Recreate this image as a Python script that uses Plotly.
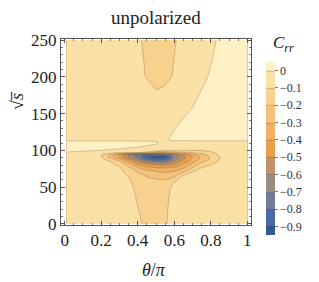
import plotly.graph_objects as go

# theta/pi grid (columns) and sqrt(s) grid (rows)
theta = [0.01, 0.1, 0.2, 0.25, 0.3, 0.35, 0.4, 0.45, 0.5, 0.55, 0.6, 0.65, 0.7, 0.75, 0.8, 0.85, 0.9, 1.0]
sqrt_s_lower = [0, 30, 50, 60, 66, 72, 77, 81, 85, 88, 91, 94, 97, 100, 104, 108, 110.5, 112]
sqrt_s_upper = [114, 130, 160, 182, 190, 200, 220, 250]

# C_rr values, below the threshold line
c_rr_lower = [
    [-0.05, -0.05, -0.05, -0.05, -0.05, -0.05, -0.08, -0.12, -0.13, -0.11, -0.06, -0.05, -0.05, -0.05, -0.05, -0.05, -0.05, -0.05],
    [-0.05, -0.05, -0.05, -0.05, -0.05, -0.055, -0.105, -0.13, -0.14, -0.12, -0.065, -0.055, -0.05, -0.05, -0.05, -0.05, -0.05, -0.05],
    [-0.05, -0.05, -0.05, -0.05, -0.05, -0.07, -0.13, -0.15, -0.16, -0.15, -0.07, -0.06, -0.05, -0.05, -0.05, -0.05, -0.05, -0.05],
    [-0.05, -0.05, -0.05, -0.05, -0.05, -0.09, -0.15, -0.18, -0.19, -0.198, -0.115, -0.075, -0.05, -0.05, -0.05, -0.05, -0.05, -0.05],
    [-0.05, -0.05, -0.05, -0.05, -0.055, -0.11, -0.17, -0.21, -0.24, -0.25, -0.24, -0.098, -0.065, -0.05, -0.05, -0.05, -0.05, -0.05],
    [-0.05, -0.05, -0.05, -0.05, -0.07, -0.15, -0.21, -0.27, -0.31, -0.32, -0.305, -0.23, -0.11, -0.07, -0.05, -0.05, -0.05, -0.05],
    [-0.05, -0.05, -0.05, -0.06, -0.09, -0.19, -0.302, -0.38, -0.41, -0.42, -0.395, -0.32, -0.205, -0.105, -0.075, -0.05, -0.05, -0.05],
    [-0.05, -0.05, -0.055, -0.075, -0.13, -0.26, -0.402, -0.49, -0.52, -0.53, -0.495, -0.39, -0.28, -0.16, -0.105, -0.065, -0.05, -0.05],
    [-0.05, -0.05, -0.065, -0.101, -0.18, -0.37, -0.52, -0.65, -0.705, -0.702, -0.58, -0.46, -0.34, -0.23, -0.15, -0.085, -0.06, -0.05],
    [-0.05, -0.05, -0.078, -0.15, -0.28, -0.48, -0.64, -0.805, -0.87, -0.85, -0.65, -0.51, -0.38, -0.27, -0.18, -0.095, -0.06, -0.05],
    [-0.045, -0.05, -0.092, -0.24, -0.405, -0.605, -0.74, -0.88, -0.96, -0.95, -0.695, -0.54, -0.405, -0.28, -0.185, -0.095, -0.06, -0.05],
    [-0.035, -0.045, -0.095, -0.22, -0.44, -0.62, -0.76, -0.82, -0.805, -0.78, -0.605, -0.48, -0.35, -0.24, -0.16, -0.085, -0.06, -0.05],
    [-0.005, -0.02, -0.05, -0.06, -0.07, -0.09, -0.098, -0.12, -0.295, -0.298, -0.25, -0.205, -0.19, -0.16, -0.115, -0.07, -0.05, -0.05],
    [0.02, 0.01, -0.002, -0.01, -0.02, -0.03, -0.05, -0.06, -0.06, -0.08, -0.09, -0.08, -0.098, -0.098, -0.075, -0.055, -0.05, -0.05],
    [0.04, 0.035, 0.03, 0.025, 0.02, 0.005, -0.003, -0.02, -0.025, -0.05, -0.06, -0.06, -0.06, -0.055, -0.05, -0.05, -0.05, -0.05],
    [0.04, 0.04, 0.04, 0.04, 0.035, 0.03, 0.025, 0.012, -0.002, -0.045, -0.05, -0.05, -0.05, -0.05, -0.05, -0.05, -0.05, -0.05],
    [0.04, 0.04, 0.04, 0.04, 0.04, 0.035, 0.03, 0.025, 0.01, -0.04, -0.05, -0.05, -0.05, -0.05, -0.05, -0.05, -0.05, -0.05],
    [0.04, 0.04, 0.04, 0.04, 0.04, 0.035, 0.03, 0.02, 0.005, -0.03, -0.05, -0.05, -0.05, -0.05, -0.05, -0.05, -0.05, -0.05],
]

# C_rr values above the threshold line
c_rr_upper = [
    [-0.05, -0.05, -0.05, -0.05, -0.05, -0.05, -0.05, -0.05, -0.04, -0.015, 0.02, 0.03, 0.04, 0.04, 0.04, 0.04, 0.04, 0.04],
    [-0.05, -0.05, -0.05, -0.05, -0.05, -0.05, -0.05, -0.05, -0.045, -0.03, -0.004, 0.025, 0.035, 0.04, 0.04, 0.04, 0.04, 0.04],
    [-0.05, -0.05, -0.05, -0.05, -0.05, -0.055, -0.06, -0.07, -0.075, -0.07, -0.055, -0.03, -0.002, 0.025, 0.035, 0.04, 0.04, 0.04],
    [-0.05, -0.05, -0.05, -0.05, -0.05, -0.055, -0.065, -0.085, -0.099, -0.095, -0.08, -0.06, -0.035, 0.002, 0.02, 0.035, 0.04, 0.04],
    [-0.05, -0.05, -0.05, -0.05, -0.05, -0.055, -0.07, -0.09, -0.108, -0.101, -0.085, -0.065, -0.04, -0.01, 0.02, 0.035, 0.04, 0.04],
    [-0.05, -0.05, -0.05, -0.05, -0.05, -0.055, -0.075, -0.105, -0.118, -0.112, -0.095, -0.07, -0.045, -0.02, 0.01, 0.03, 0.04, 0.04],
    [-0.05, -0.05, -0.05, -0.05, -0.05, -0.06, -0.085, -0.107, -0.125, -0.12, -0.098, -0.075, -0.05, -0.025, -0.002, 0.02, 0.035, 0.04],
    [-0.05, -0.05, -0.05, -0.05, -0.05, -0.06, -0.09, -0.115, -0.13, -0.125, -0.105, -0.08, -0.06, -0.04, -0.015, 0.01, 0.03, 0.04],
]

# band colours, from the lowest band (< -0.9) to the highest (> 0)
band_colors = ["#2E5A91", "#4A68A8", "#737B98", "#9C8B7F", "#C29267", "#E8A04C",
               "#EFB264", "#F4C27A", "#F7D18D", "#FBE1A6", "#FEF1C6"]
cbar_tickvals = [0, -0.1, -0.2, -0.3, -0.4, -0.5, -0.6, -0.7, -0.8, -0.9]
cbar_ticktext = ["0", "\u22120.1", "\u22120.2", "\u22120.3", "\u22120.4", "\u22120.5",
                 "\u22120.6", "\u22120.7", "\u22120.8", "\u22120.9"]

sqrt_s = sqrt_s_lower + sqrt_s_upper
c_rr = c_rr_lower + c_rr_upper

n = len(band_colors)
colorscale = [[i / (n - 1), c] for i, c in enumerate(band_colors)]

# the page body adds an 8px margin, so the figure is laid out 8px smaller
OFF = 8
W, H = 319 - OFF, 282 - OFF
FL, FR, FT, FB = 61, 251, 39, 225          # frame edges in the final picture
L, T = FL - OFF, FT - OFF
pw, ph = FR - FL, FB - FT
R, B = W - L - pw, H - T - ph

def px_x(p):
    return (p - FL) / pw

def px_y(p):
    return (FB - p) / ph

serif = "Liberation Serif, Times New Roman, serif"

fig = go.Figure()
fig.add_trace(go.Contour(
    x=theta, y=sqrt_s, z=c_rr,
    autocontour=False,
    contours=dict(start=-0.9, end=0, size=0.1, coloring="fill", showlines=True),
    colorscale=colorscale,
    line=dict(color="rgba(95,75,55,0.45)", width=0.6, smoothing=0.8),
    colorbar=dict(
        x=px_x(266), xanchor="left", xpad=0,
        y=px_y(148.5), yanchor="middle", ypad=0,
        thickness=9, thicknessmode="pixels",
        len=173, lenmode="pixels",
        outlinewidth=0,
        tickmode="array", tickvals=cbar_tickvals, ticktext=cbar_ticktext,
        ticks="outside", ticklen=3, tickcolor="#777",
        tickfont=dict(family=serif, size=12, color="#333"),
    ),
    hoverinfo="skip",
))

axis_common = dict(
    showgrid=False, zeroline=False, automargin=False,
    showline=True, linecolor="#555", linewidth=1, mirror="allticks",
    ticks="inside", ticklen=4, tickcolor="#555", tickwidth=1,
    tickfont=dict(family=serif, size=17, color="#222"),
)

fig.update_xaxes(range=[-0.02, 1.02], tickmode="linear", tick0=0, dtick=0.2,
                 minor=dict(tickmode="linear", tick0=0, dtick=0.05, ticks="inside",
                            ticklen=2, tickcolor="#777"),
                 **axis_common)
fig.update_yaxes(range=[-1.4, 251.4], tickmode="linear", tick0=0, dtick=50,
                 minor=dict(tickmode="linear", tick0=0, dtick=10, ticks="inside",
                            ticklen=2, tickcolor="#777"),
                 **axis_common)

fig.update_layout(
    width=W, height=H,
    margin=dict(l=L, r=R, t=T, b=B, autoexpand=False),
    paper_bgcolor="white", plot_bgcolor="white",
    showlegend=False,
    annotations=[
        dict(text="unpolarized", xref="paper", yref="paper", x=px_x(156), y=px_y(17),
             xanchor="center", yanchor="middle", showarrow=False,
             font=dict(family=serif, size=19, color="#222")),
        dict(text="<i>θ</i>/<i>π</i>", xref="paper", yref="paper", x=px_x(154), y=px_y(270),
             xanchor="center", yanchor="middle", showarrow=False,
             font=dict(family=serif, size=18, color="#222")),
        dict(text="√<i>s\u0305</i>",
             xref="paper", yref="paper", x=px_x(17), y=px_y(101),
             xanchor="center", yanchor="middle", showarrow=False, textangle=-90,
             font=dict(family=serif, size=18, color="#222")),
        dict(text="<i>C</i><sub><i>rr</i></sub>", xref="paper", yref="paper",
             x=px_x(283), y=px_y(44), xanchor="center", yanchor="middle", showarrow=False,
             font=dict(family=serif, size=17, color="#111")),
    ],
)

fig.write_html("out.html")
